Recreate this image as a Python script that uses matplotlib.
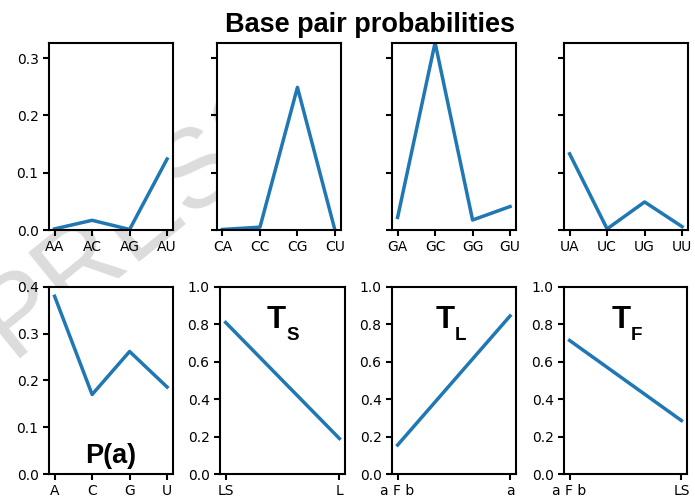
import matplotlib
matplotlib.use("Agg")
import matplotlib.pyplot as plt
from matplotlib.transforms import offset_copy
import numpy as np

# base pair probabilities (top row)
pairs = [["AA", "AC", "AG", "AU"],
         ["CA", "CC", "CG", "CU"],
         ["GA", "GC", "GG", "GU"],
         ["UA", "UC", "UG", "UU"]]
p_A = [0.002, 0.017, 0.001, 0.124]
p_C = [0.001, 0.005, 0.249, 0.000]
p_G = [0.022, 0.327, 0.0175, 0.041]
p_U = [0.133, 0.002, 0.049, 0.006]

# bottom row
bases = ["A", "C", "G", "U"]
p_a = [0.380, 0.170, 0.262, 0.186]
ts_labels = ["LS", "L"]
ts_vals = [0.81, 0.19]
tl_labels = ["a F b", "a"]
tl_vals = [0.155, 0.845]
tf_labels = ["a F b", "LS"]
tf_vals = [0.714, 0.286]
subs = ["S", "L", "F"]

plt.rcParams['axes.linewidth'] = 1.5

fig = plt.figure(figsize=(6.95, 4.99), dpi=100)

# faint watermark, sits behind the (white) axes
fig.text(0.200, 0.565, "PRESS", rotation=39, fontsize=80, color="#dcdcdc",
         ha="center", va="center", family="Liberation Sans", zorder=-1)

lefts = [0.0705, 0.312, 0.564, 0.8115]
w = 0.178
top_axes = []
for i in range(4):
    ax = fig.add_axes([lefts[i], 0.539, w, 0.3755],
                      sharey=top_axes[0] if top_axes else None)
    top_axes.append(ax)
bot_rects = [[0.0705, 0.050, 0.178, 0.375],
             [0.3165, 0.050, 0.180, 0.375],
             [0.564, 0.050, 0.178, 0.375],
             [0.8115, 0.050, 0.177, 0.375]]
bot_axes = [fig.add_axes(r) for r in bot_rects]

lw = 2.5
for ax, labels, vals in zip(top_axes, pairs, [p_A, p_C, p_G, p_U]):
    ax.plot(labels, vals, lw=lw, color="#1f77b4")
top_axes[0].set_ylim(0, 0.327)
top_axes[0].set_yticks([0.0, 0.1, 0.2, 0.3])
for ax in top_axes[1:]:
    ax.tick_params(labelleft=False)

bot_axes[0].plot(bases, p_a, lw=lw, color="#1f77b4")
bot_axes[0].set_ylim(0, 0.4)
bot_axes[0].set_yticks([0.0, 0.1, 0.2, 0.3, 0.4])
bot_axes[0].text(0.5, 0.06, "P(a)", transform=bot_axes[0].transAxes,
                 ha="center", va="baseline", fontsize=19.5, fontweight="bold",
                 family="Liberation Sans")

t_x = [0.376, 0.355, 0.39]
for ax, labels, vals, sub, tx in zip(bot_axes[1:], [ts_labels, tl_labels, tf_labels],
                                     [ts_vals, tl_vals, tf_vals], subs, t_x):
    ax.plot(labels, vals, lw=lw, color="#1f77b4")
    ax.set_ylim(0, 1.0)
    ax.set_yticks([0.0, 0.2, 0.4, 0.6, 0.8, 1.0])
    ax.text(tx, 0.78, "T", transform=ax.transAxes, ha="left", va="baseline",
            fontsize=22.5, fontweight="bold", family="Liberation Sans")
    tr = offset_copy(ax.transAxes, fig=fig, x=19, y=-12, units="dots")
    ax.text(tx, 0.78, sub, transform=tr, ha="left", va="baseline",
            fontsize=13.5, fontweight="bold", family="Liberation Sans")

for ax in top_axes + bot_axes:
    ax.tick_params(width=1.5, length=4, labelsize=10)

fig.suptitle("Base pair probabilities", x=0.532, y=0.936, va="baseline",
             fontsize=19.5, fontweight="bold", family="Liberation Sans")

fig.savefig("out.png", dpi=100)
